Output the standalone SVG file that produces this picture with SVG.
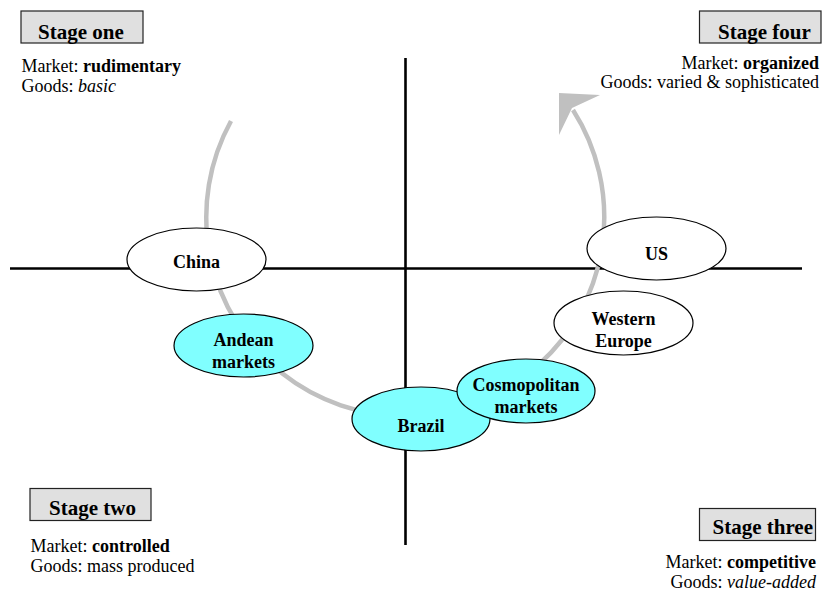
<svg xmlns="http://www.w3.org/2000/svg" width="826" height="593" viewBox="0 0 826 593">
<style>
.box{fill:#e0e0e0;stroke:#222;stroke-width:1.2}
.title{font-family:"Liberation Serif","Times New Roman",serif;font-weight:bold;font-size:21px;fill:#000}
.desc{font-family:"Liberation Serif","Times New Roman",serif;font-size:18px;fill:#000}
.node{stroke:#000;stroke-width:1.2}
.white{fill:#fff}
.cyan{fill:#80ffff}
.lbl{font-family:"Liberation Serif","Times New Roman",serif;font-weight:bold;font-size:18px;fill:#000;text-anchor:middle}
.axis{stroke:#000;stroke-width:2.6;fill:none}
.flow{stroke:#c0c0c0;stroke-width:4.5;fill:none}
</style>
<rect width="826" height="593" fill="#fff"/>
<g id="connectors">
<line class="axis" x1="405.5" y1="58" x2="405.5" y2="545"/>
<line class="axis" x1="10" y1="268.5" x2="802" y2="268.5"/>
<path class="flow" d="M231,121 A199,199 0 1,0 573,110"/>
<polygon points="559,93 600,95 572,108 559,135" fill="#c0c0c0"/>
</g>
<g id="stage-one">
<rect class="box" x="21" y="11" width="122" height="32"/>
<text class="title" x="38" y="39">Stage one</text>
<text class="desc" x="21.5" y="72">Market: <tspan font-weight="bold">rudimentary</tspan></text>
<text class="desc" x="21.5" y="92">Goods: <tspan font-style="italic">basic</tspan></text>
</g>
<g id="stage-four">
<rect class="box" x="699.5" y="11" width="121.5" height="32"/>
<text class="title" x="718" y="39">Stage four</text>
<text class="desc" x="819" y="68.5" text-anchor="end">Market: <tspan font-weight="bold">organized</tspan></text>
<text class="desc" x="819" y="88" text-anchor="end">Goods: varied &amp; sophisticated</text>
</g>
<g id="stage-two">
<rect class="box" x="30" y="488.5" width="121" height="32"/>
<text class="title" x="49" y="515">Stage two</text>
<text class="desc" x="30.5" y="552">Market: <tspan font-weight="bold">controlled</tspan></text>
<text class="desc" x="30.5" y="572">Goods: mass produced</text>
</g>
<g id="stage-three">
<rect class="box" x="699.5" y="508.5" width="116" height="32"/>
<text class="title" x="712.5" y="534">Stage three</text>
<text class="desc" x="816" y="568" text-anchor="end">Market: <tspan font-weight="bold">competitive</tspan></text>
<text class="desc" x="816" y="588" text-anchor="end">Goods: <tspan font-style="italic">value-added</tspan></text>
</g>
<g id="china">
<ellipse class="node white" cx="196.5" cy="259.5" rx="69.5" ry="31.5"/>
<text class="lbl" x="196.5" y="268">China</text>
</g>
<g id="andean">
<ellipse class="node cyan" cx="243.5" cy="345.5" rx="69.5" ry="31.5"/>
<text class="lbl" x="243.5" y="346">Andean</text>
<text class="lbl" x="243.5" y="367.5">markets</text>
</g>
<g id="brazil">
<ellipse class="node cyan" cx="421" cy="419" rx="69" ry="32"/>
<text class="lbl" x="421" y="432">Brazil</text>
</g>
<g id="cosmopolitan">
<ellipse class="node cyan" cx="526" cy="391" rx="69" ry="32"/>
<text class="lbl" x="526" y="390.5">Cosmopolitan</text>
<text class="lbl" x="526" y="412.5">markets</text>
</g>
<g id="western-europe">
<ellipse class="node white" cx="623.5" cy="323" rx="69.5" ry="32"/>
<text class="lbl" x="623.5" y="325">Western</text>
<text class="lbl" x="623.5" y="346.5">Europe</text>
</g>
<g id="us">
<ellipse class="node white" cx="656.5" cy="248.5" rx="69.5" ry="31.5"/>
<text class="lbl" x="656.5" y="260">US</text>
</g>
</svg>
